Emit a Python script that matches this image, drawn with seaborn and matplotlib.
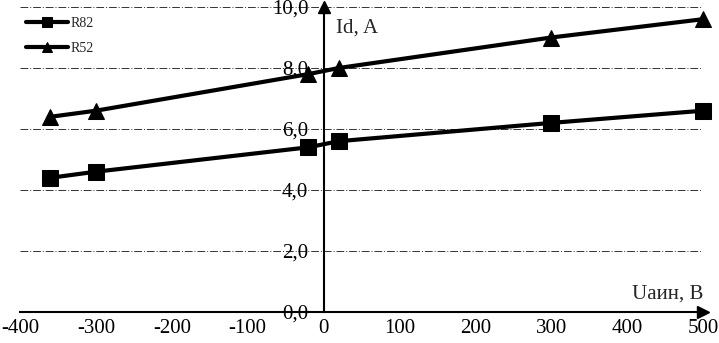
import matplotlib
matplotlib.use("Agg")
import matplotlib.pyplot as plt
import seaborn as sns
import pandas as pd

u_values = [-360, -300, -20, 20, 300, 500]
r82_values = [4.4, 4.6, 5.4, 5.6, 6.2, 6.6]
r52_values = [6.4, 6.6, 7.8, 8.0, 9.0, 9.6]
series_names = ["R82", "R52"]
x_ticks = [-400, -300, -200, -100, 0, 100, 200, 300, 400, 500]
y_ticks = [0, 2, 4, 6, 8, 10]

sns.set_theme(style="white")
plt.rcParams['font.family'] = ['Liberation Serif', 'DejaVu Serif']

df = pd.DataFrame({
    "U": u_values * 2,
    "I": r82_values + r52_values,
    "s": [series_names[0]] * len(u_values) + [series_names[1]] * len(u_values),
})

fig = plt.figure(figsize=(7.19, 3.43), dpi=100)
ax = fig.add_axes([20/719, 31/343, 683/719, 305/343])

sns.lineplot(data=df, x="U", y="I", hue="s", style="s",
             markers={"R82": "s", "R52": "^"}, dashes=False,
             palette={"R82": "black", "R52": "black"},
             markersize=11, linewidth=3, markeredgecolor="black", ax=ax)
for ln in ax.lines:
    ln.set_clip_on(False)

ax.set_xlim(-400, 500)
ax.set_ylim(0, 10)
ax.set_xticks(x_ticks)
ax.set_yticks(y_ticks)
ax.set_xticklabels([str(t) for t in x_ticks])
ax.set_yticklabels([f"{t:.1f}".replace(".", ",") for t in y_ticks])

for s in ["top", "right"]:
    ax.spines[s].set_visible(False)
ax.spines["left"].set_position(("data", 0))
ax.spines["bottom"].set_position(("data", 0))
ax.spines["left"].set_color("black")
ax.spines["bottom"].set_color("black")
ax.spines["left"].set_linewidth(1.5)
ax.spines["bottom"].set_linewidth(1.5)

ax.tick_params(axis="x", direction="inout", length=8, width=1, colors="black",
               labelcolor="black", labelsize=15, pad=1)
ax.tick_params(axis="y", direction="inout", length=6, width=1, colors="black",
               labelcolor="black", labelsize=15, pad=8)

ax.yaxis.grid(True, linestyle=(0, (8, 2, 1, 2)), color="#333333", linewidth=0.7)
ax.xaxis.grid(False)
ax.set_axisbelow(True)

# arrows
ax.plot(1, 0, ">", transform=ax.get_yaxis_transform(), color="black", markersize=9, clip_on=False)
ax.plot(0, 1, "^", transform=ax.get_xaxis_transform(), color="black", markersize=9, clip_on=False)

ax.set_xlabel("")
ax.set_ylabel("")
ax.text(16, 9.3, "Id, A", fontsize=15, ha="left", va="center")
ax.text(500, 0.6, "Uаин, В", fontsize=15, ha="right", va="center")

leg = ax.legend(loc="upper left", bbox_to_anchor=(-0.005, 1.0), frameon=False,
                fontsize=10, handlelength=3, labelspacing=0.9, borderaxespad=0.3,
                handletextpad=0.2)
for h in leg.legend_handles:
    h.set_markersize(7)

fig.savefig("out.png", dpi=100)
